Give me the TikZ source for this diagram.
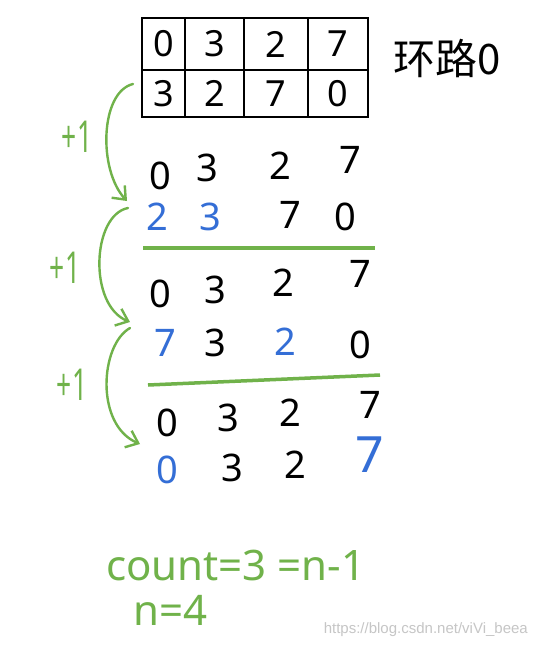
\documentclass[tikz,border=0pt]{standalone}
\usepackage{fontspec}
\setmainfont{Noto Sans}
\newfontfamily\cjk{Noto Sans CJK SC}
\newfontfamily\wmfont{Liberation Sans}
\usetikzlibrary{arrows.meta}
\definecolor{pen}{RGB}{112,178,74}
\definecolor{blu}{RGB}{52,110,214}
\begin{document}
\begin{tikzpicture}[x=1pt,y=-1pt,
  dg/.style={font=\fontsize{38}{38}\selectfont, inner sep=0pt, anchor=center},
  bl/.style={dg, text=blu},
  cell/.style={draw, line width=2.6pt, inner sep=0pt, font=\fontsize{36}{36}\selectfont},
  gline/.style={draw=pen, line width=3.5pt},
  garrow/.style={draw=pen, line width=2.4pt, line cap=round, -{Straight Barb[length=11pt,width=18pt,line width=2.4pt]}},
  gtext/.style={text=pen, inner sep=0pt, anchor=center},
  plusone/.style={gtext, font=\fontsize{44}{44}\selectfont, xscale=0.6}
]
\fill[white] (0,0) rectangle (538,648);
\useasboundingbox (0,0) rectangle (538,648);

% table
\node[cell, minimum width=43pt, minimum height=52pt] (t11) at (163.5,44) {0};
\node[cell, minimum width=59pt, minimum height=52pt] (t12) at (214.5,44) {3};
\node[cell, minimum width=64pt, minimum height=52pt] (t13) at (276,44) {2};
\node[cell, minimum width=60pt, minimum height=52pt] (t14) at (338,44) {7};
\node[cell, minimum width=43pt, minimum height=47pt] (t21) at (163.5,93.5) {3};
\node[cell, minimum width=59pt, minimum height=47pt] (t22) at (214.5,93.5) {2};
\node[cell, minimum width=64pt, minimum height=47pt] (t23) at (276,93.5) {7};
\node[cell, minimum width=60pt, minimum height=47pt] (t24) at (338,93.5) {0};
\node[inner sep=0pt, font=\fontsize{42}{42}\selectfont] (title) at (447,58) {\cjk 环路0};

% block 1
\node[dg] (a1) at (160,176) {0};
\node[dg] (a2) at (207,168) {3};
\node[dg] (a3) at (280,166) {2};
\node[dg] (a4) at (350,160) {7};
\node[bl] (b1) at (157,217) {2};
\node[bl] (b2) at (210,217) {3};
\node[dg] (b3) at (290,215) {7};
\node[dg] (b4) at (345,217) {0};
\draw[gline] (143,248) -- (375,248);

% block 2
\node[dg] (c1) at (160,294) {0};
\node[dg] (c2) at (215,290) {3};
\node[dg] (c3) at (283,283) {2};
\node[dg] (c4) at (360,274) {7};
\node[bl] (d1) at (165,343) {7};
\node[dg] (d2) at (215,343) {3};
\node[bl] (d3) at (285,342) {2};
\node[dg] (d4) at (360,345) {0};
\draw[gline] (148,385) -- (380,375);

% block 3
\node[dg] (e1) at (167,423) {0};
\node[dg] (e2) at (228,418) {3};
\node[dg] (e3) at (290,413) {2};
\node[dg] (e4) at (370,405) {7};
\node[bl] (f1) at (167,470) {0};
\node[dg] (f2) at (232,468) {3};
\node[dg] (f3) at (295,465) {2};
\node[bl, font=\fontsize{50}{50}\selectfont] (f4) at (370,455) {7};

% arrows
\coordinate (s1) at (133,84);
\coordinate (s2) at (128,208);
\coordinate (s3) at (130,328);
\coordinate (p1) at (127,201);
\coordinate (p2) at (130,322);
\coordinate (p3) at (140,444);
\draw[garrow] (s1) .. controls (100,92) and (98,170) .. (p1);
\draw[garrow] (s2) .. controls (92,215) and (88,305) .. (p2);
\draw[garrow] (s3) .. controls (100,345) and (95,425) .. (p3);
\node[plusone] (l1) at (77,137) {+1};
\node[plusone] (l2) at (65,268) {+1};
\node[plusone] (l3) at (72,385) {+1};

% bottom text
\node[gtext, anchor=west, font=\fontsize{42}{42}\selectfont] (cnt) at (106,565) {count=3 =n-1};
\node[gtext, anchor=west, font=\fontsize{42}{42}\selectfont] (nn) at (133,610) {n=4};
\node[text=gray!45, anchor=east, inner sep=0pt, font=\wmfont\fontsize{15}{15}\selectfont] (wm) at (528,630) {https://blog.csdn.net/viVi\_beea};
\end{tikzpicture}
\end{document}
